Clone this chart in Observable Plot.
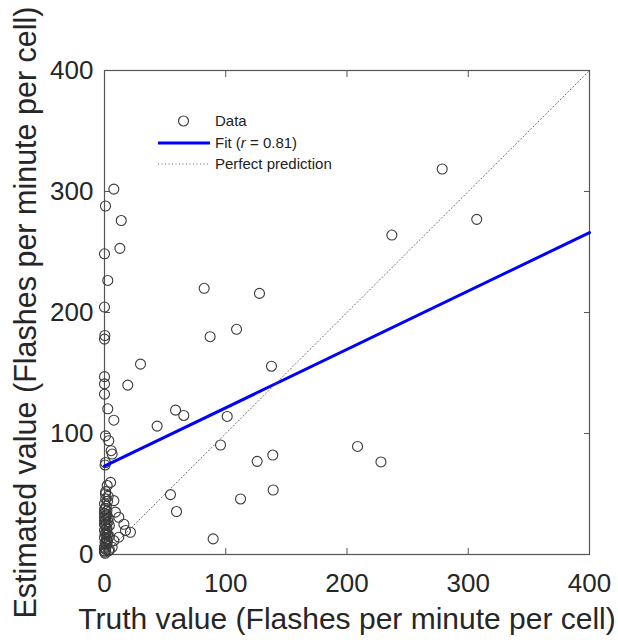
<!DOCTYPE html>
<html>
<head>
<meta charset="utf-8">
<script src="https://cdn.jsdelivr.net/npm/d3@7"></script>
<script src="https://cdn.jsdelivr.net/npm/@observablehq/plot@0.6"></script>
<style>
  html, body { margin: 0; padding: 0; background: #fff; }
  #wrap { position: relative; width: 618px; height: 640px; font-family: "Liberation Sans", Arial, sans-serif; }
  #legend { position: absolute; left: 150px; top: 110px; font-size: 15px; color: #222; }
  #legend .row { position: relative; height: 21.5px; line-height: 21.5px; padding-left: 65px; white-space: nowrap; }
  #legend svg { position: absolute; left: 0; top: 0; }
</style>
</head>
<body>
<div id="wrap">
  <div id="chart"></div>
  <div id="legend">
    <div class="row"><svg width="62" height="22"><circle cx="33.5" cy="11" r="5" fill="none" stroke="#444" stroke-width="1.2"/></svg>Data</div>
    <div class="row"><svg width="62" height="22"><line x1="8" y1="11" x2="60" y2="11" stroke="#0000ff" stroke-width="3"/></svg>Fit (<i>r</i> = 0.81)</div>
    <div class="row"><svg width="62" height="22"><line x1="8" y1="11" x2="60" y2="11" stroke="#666" stroke-width="1" stroke-dasharray="1,2.5"/></svg>Perfect prediction</div>
  </div>
</div>
<script>
// Data
const truthValues = [
  278.5, 307, 237, 208.7, 228, 82.2, 127.8, 87.1, 108.9, 137.7,
  29.7, 19.2, 58.6, 65.4, 43.4, 101.2, 95.7, 125.9, 138.8, 112.2,
  139.1, 54.4, 59.4, 89.6,
  13.8, 12.7, 7.7, 0.8, 0, 2.7, 0, 0, 0.3, 0,
  0, 0, 2.7, 7.7, 0.8, 3.5, 5.5, 6.3, 0.8, 0.5,
  5, 2.2, 0.8, 7.7, 9, 11.8, 16, 17.3, 21.4, 11.8,
  7.7, 6.3, 4,
  0, 1, 0, 2, 0.5, 1.5, 0, 2.5, 1, 0,
  2, 0.5, 1.5, 0, 3, 1, 0, 2, 0.5, 1.5,
  0, 2.5, 1, 0, 1, 2, 0.5, 1.5, 0, 3,
  1, 0, 2, 0.5, 3.5, 1.5, 2.5, 4, 0, 1,
  3, 0, 2, 4
];
const estimatedValues = [
  318.6, 277, 264, 89.3, 76.5, 220, 215.8, 180, 186.1, 155.6,
  157.3, 140, 119.3, 114.9, 106.1, 114.1, 90.5, 77, 82.2, 45.9,
  53.3, 49.5, 35.5, 12.9,
  276, 253, 302, 288, 248.5, 226.5, 204.5, 178, 181, 147,
  141, 132.5, 120.4, 111, 98, 94, 85.8, 83, 76, 74,
  59.6, 57, 50, 44.5, 35, 30.8, 25, 19.8, 18.4, 14.3,
  11.5, 6, 4,
  2, 4, 6, 8, 10, 12, 14, 16, 18, 20,
  22, 24, 26, 28, 30, 32, 34, 36, 38, 40,
  42, 44, 46, 5, 9, 13, 17, 21, 25, 27,
  29, 31, 33, 1, 3, 7, 11, 15, 37, 52,
  48, 3, 19, 24
];
const points = truthValues.map((t, i) => ({truth: t, estimated: estimatedValues[i]}));

const fitTruth = [0, 400];
const fitEstimated = [73, 266];
const fitLine = fitTruth.map((t, i) => ({truth: t, estimated: fitEstimated[i]}));

const perfectTruth = [0, 400];
const perfectEstimated = [0, 400];
const perfectLine = perfectTruth.map((t, i) => ({truth: t, estimated: perfectEstimated[i]}));

const xTicks = [0, 100, 200, 300, 400];
const yTicks = [0, 100, 200, 300, 400];
const xLabel = "Truth value (Flashes per minute per cell)";
const yLabel = "Estimated value (Flashes per minute per cell)";

const axisColor = "#555";
const textColor = "#262626";

const chart = Plot.plot({
  width: 618,
  height: 640,
  marginLeft: 104,
  marginRight: 29,
  marginTop: 70,
  marginBottom: 86,
  style: {fontFamily: '"Liberation Sans", Arial, sans-serif', color: textColor, background: "#fff"},
  x: {domain: [0, 400]},
  y: {domain: [0, 400]},
  marks: [
    Plot.frame({stroke: axisColor, strokeWidth: 1.2}),
    // bottom / left: inward ticks plus labels
    Plot.axisX({anchor: "bottom", ticks: xTicks, tickSize: -6, tickPadding: 25, fontSize: 26, label: null, stroke: axisColor, fill: textColor}),
    Plot.axisY({anchor: "left", ticks: yTicks, tickSize: -6, tickPadding: 17, fontSize: 26, label: null, stroke: axisColor, fill: textColor}),
    // top / right: inward ticks only
    Plot.axisX({anchor: "top", ticks: xTicks, tickSize: -6, label: null, stroke: axisColor, fill: "none"}),
    Plot.axisY({anchor: "right", ticks: yTicks, tickSize: -6, label: null, stroke: axisColor, fill: "none"}),
    Plot.dot(points, {x: "truth", y: "estimated", r: 5, stroke: "#3a3a3a", strokeWidth: 1.1, fill: "none"}),
    Plot.line(fitLine, {x: "truth", y: "estimated", stroke: "#0000ff", strokeWidth: 3}),
    Plot.line(perfectLine, {x: "truth", y: "estimated", stroke: "#666", strokeWidth: 1, strokeDasharray: "1,2.5"}),
    Plot.text([xLabel], {frameAnchor: "bottom", text: d => d, dy: 65, textAnchor: "middle", lineAnchor: "middle", fontSize: 30, fill: textColor}),
    Plot.text([yLabel], {frameAnchor: "left", text: d => d, dx: -78, rotate: -90, textAnchor: "middle", lineAnchor: "middle", fontSize: 30.5, fill: textColor})
  ]
});
document.getElementById("chart").appendChild(chart);
</script>
</body>
</html>
